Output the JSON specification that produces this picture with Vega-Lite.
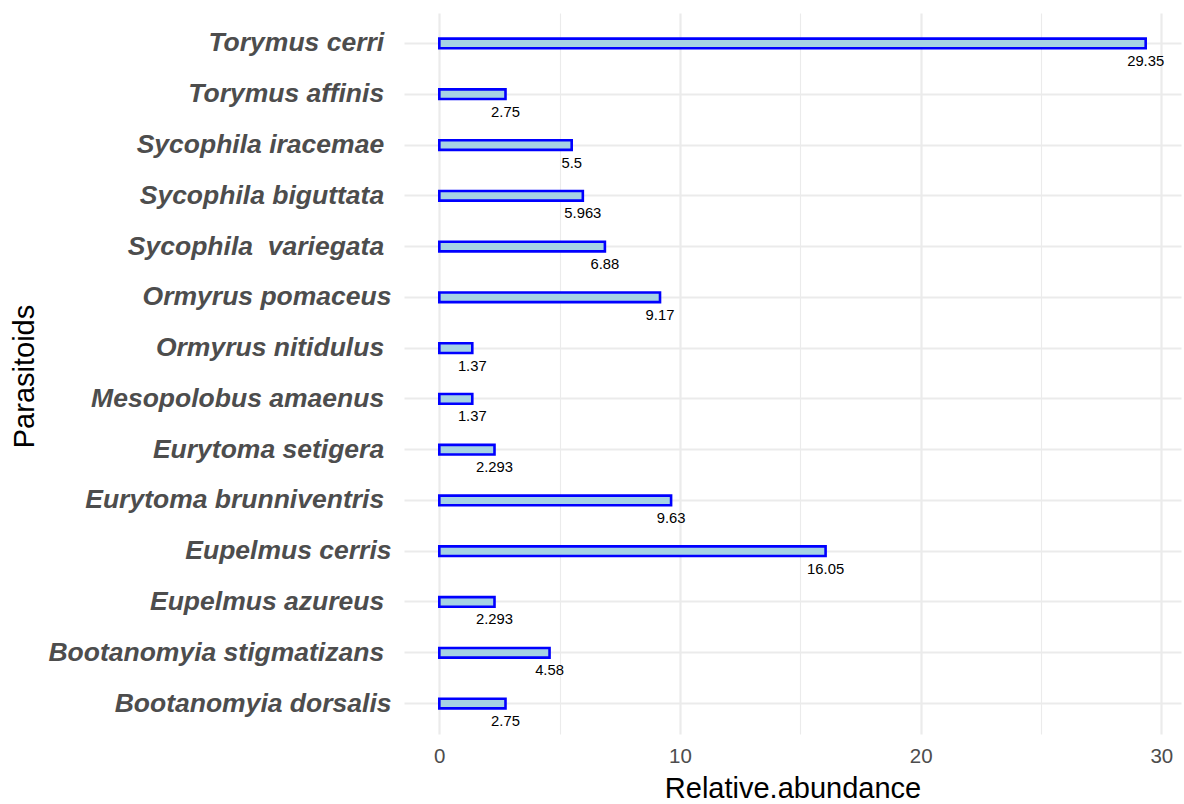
{
  "$schema": "https://vega.github.io/schema/vega-lite/v6.json",
  "autosize": "none",
  "width": 777,
  "height": 721,
  "padding": {"left": 404, "top": 13, "right": 3, "bottom": 70},
  "background": "white",
  "config": {
    "view": {"stroke": null},
    "font": "Liberation Sans"
  },
  "data": {
    "values": [
      {"parasitoid": "Torymus cerri\u00a0\u200b", "abundance": 29.35, "lab": "29.35"},
      {"parasitoid": "Torymus affinis\u00a0\u200b", "abundance": 2.75, "lab": "2.75"},
      {"parasitoid": "Sycophila iracemae\u00a0\u200b", "abundance": 5.5, "lab": "5.5"},
      {"parasitoid": "Sycophila biguttata\u00a0\u200b", "abundance": 5.963, "lab": "5.963"},
      {"parasitoid": "Sycophila\u00a0 variegata\u00a0\u200b", "abundance": 6.88, "lab": "6.88"},
      {"parasitoid": "Ormyrus pomaceus", "abundance": 9.17, "lab": "9.17"},
      {"parasitoid": "Ormyrus nitidulus\u00a0\u200b", "abundance": 1.37, "lab": "1.37"},
      {"parasitoid": "Mesopolobus amaenus\u00a0\u200b", "abundance": 1.37, "lab": "1.37"},
      {"parasitoid": "Eurytoma setigera\u00a0\u200b", "abundance": 2.293, "lab": "2.293"},
      {"parasitoid": "Eurytoma brunniventris\u00a0\u200b", "abundance": 9.63, "lab": "9.63"},
      {"parasitoid": "Eupelmus cerris", "abundance": 16.05, "lab": "16.05"},
      {"parasitoid": "Eupelmus azureus\u00a0\u200b", "abundance": 2.293, "lab": "2.293"},
      {"parasitoid": "Bootanomyia stigmatizans\u00a0\u200b", "abundance": 4.58, "lab": "4.58"},
      {"parasitoid": "Bootanomyia dorsalis", "abundance": 2.75, "lab": "2.75"}
    ]
  },
  "encoding": {
    "y": {
      "field": "parasitoid",
      "type": "nominal",
      "sort": null,
      "scale": {"type": "band", "paddingInner": 0.81, "paddingOuter": 0.505},
      "axis": {
        "title": "Parasitoids",
        "titleFontSize": 29,
        "titleFontWeight": "normal",
        "titleColor": "black",
        "titleAngle": -90,
        "titleAlign": "center",
        "titleBaseline": "alphabetic",
        "titleX": -371,
        "titleY": 363,
        "labelFontSize": 26.5,
        "labelFontWeight": "bold",
        "labelFontStyle": "italic",
        "labelColor": "#4d4d4d",
        "labelPadding": 13,
        "labelLimit": 1000,
        "ticks": false,
        "domain": false,
        "grid": true,
        "gridColor": "#ebebeb",
        "gridWidth": 2.2,
        "bandPosition": 0.5
      }
    },
    "x": {
      "field": "abundance",
      "type": "quantitative",
      "scale": {"domain": [-1.4675, 30.8175], "nice": false, "zero": false},
      "axis": {
        "title": "Relative.abundance",
        "titleFontSize": 29,
        "titleFontWeight": "normal",
        "titleColor": "black",
        "titlePadding": 8,
        "values": [0, 5, 10, 15, 20, 25, 30],
        "labelExpr": "datum.value % 10 === 0 ? datum.label : ''",
        "labelFontSize": 20.5,
        "labelColor": "#4d4d4d",
        "labelPadding": 12,
        "ticks": false,
        "domain": false,
        "grid": true,
        "gridColor": "#ebebeb",
        "gridWidth": {"condition": {"test": "datum.value % 10 === 0", "value": 2.2}, "value": 1.1}
      }
    }
  },
  "layer": [
    {
      "mark": {"type": "bar", "fill": "#A6D3E4", "stroke": "#0000FF", "strokeWidth": 2.6},
      "encoding": {"x2": {"datum": 0}}
    },
    {
      "mark": {"type": "text", "fontSize": 14.8, "color": "black", "dy": 18.5, "align": "center", "baseline": "middle"},
      "encoding": {"text": {"field": "lab"}}
    }
  ]
}
